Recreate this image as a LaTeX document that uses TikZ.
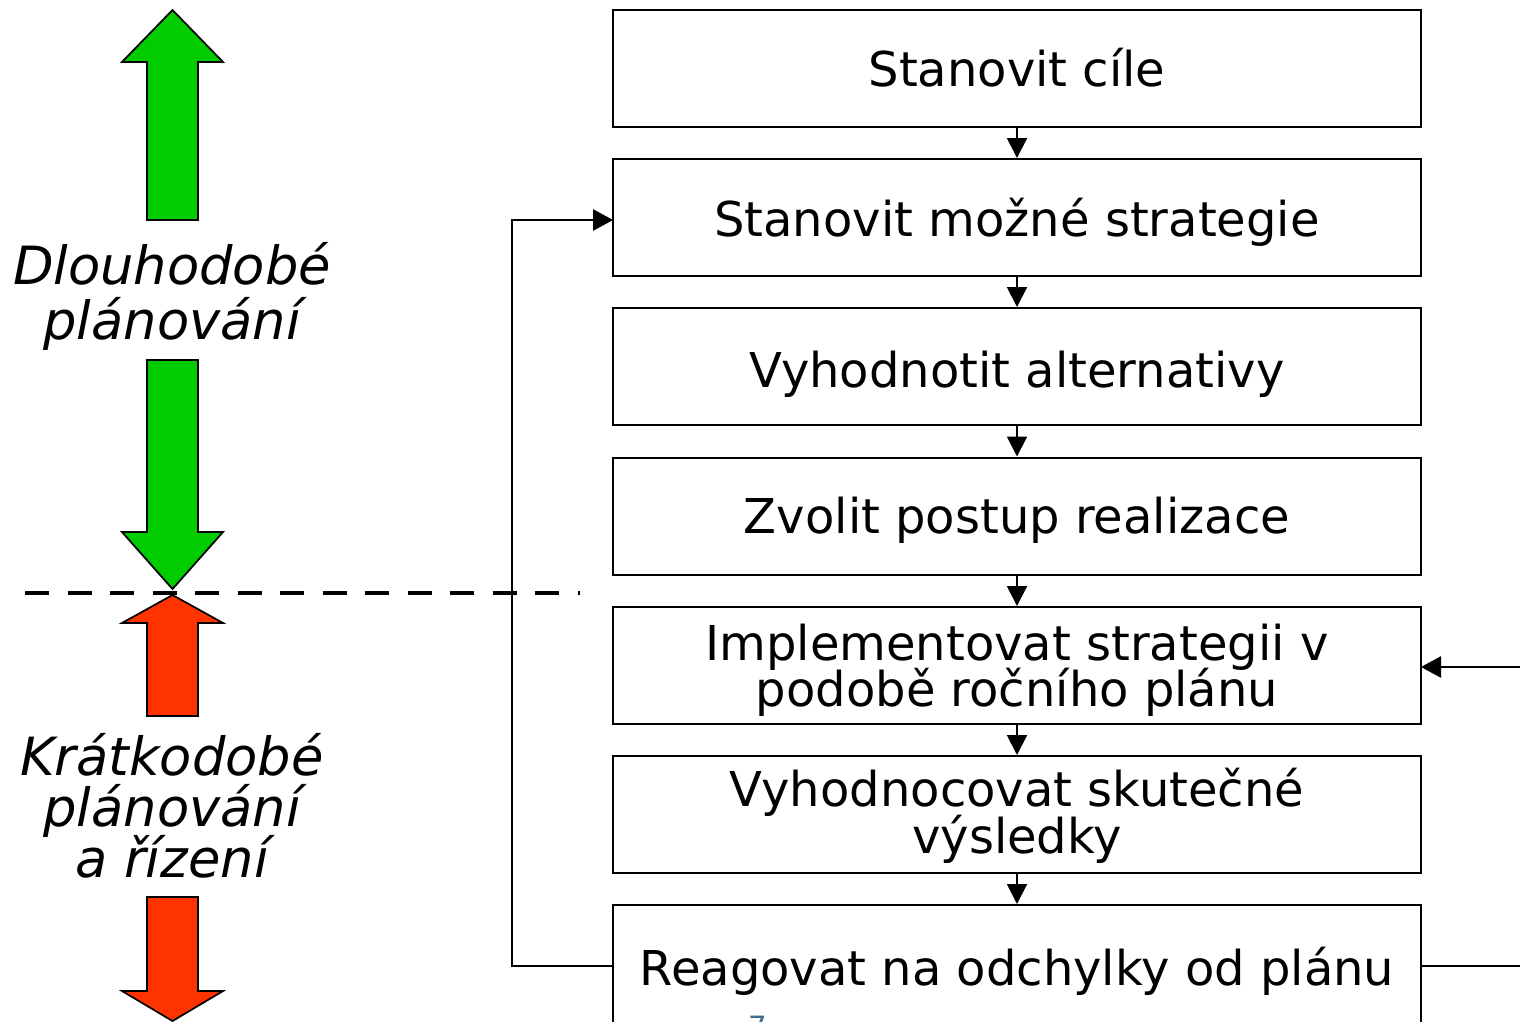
\documentclass[tikz,border=0pt]{standalone}
\usepackage{fontspec}
\setmainfont{DejaVu Sans}
\usetikzlibrary{arrows.meta,calc}
\definecolor{longgreen}{RGB}{0,204,0}
\definecolor{shortred}{RGB}{255,51,0}
\definecolor{pagenum}{RGB}{62,110,140}
\tikzset{
  stepbox/.style={draw=black, line width=1.5pt, minimum width=606pt, minimum height=87.75pt, inner sep=0pt},
  boxtext/.style={font=\fontsize{36pt}{34.5pt}\selectfont, align=center, inner sep=0pt},
  sidetext/.style={font=\fontsize{39.5pt}{41pt}\itshape\selectfont, align=center, inner sep=0pt},
  flow/.style={line width=1.5pt, -{Triangle[length=15pt,width=15pt]}},
  loop/.style={line width=1.2pt, -{Triangle[length=15pt,width=16pt]}},
  blockarrow/.style={draw=black, line width=1.3pt, line join=miter},
}
\begin{document}
\begin{tikzpicture}[x=0.75pt, y=-0.75pt]
\useasboundingbox (0,0) rectangle (1520,1021);
\clip (0,0) rectangle (1520,1021);

% process boxes
\node[stepbox] (b1) at (1017,68) {};
\node[stepbox] (b2) at (1017,217.5) {};
\node[stepbox] (b3) at (1017,366.5) {};
\node[stepbox] (b4) at (1017,516) {};
\node[stepbox] (b5) at (1017,665.5) {};
\node[stepbox] (b6) at (1017,814.5) {};
\node[stepbox, minimum height=90pt] (b7) at (1017,965) {};

% box labels
\node[boxtext, anchor=base] (t1) at (1017,86) {Stanovit cíle};
\node[boxtext, anchor=base] (t2) at (1017,236) {Stanovit možné strategie};
\node[boxtext, anchor=base] (t3) at (1017,387) {Vyhodnotit alternativy};
\node[boxtext, anchor=base] (t4) at (1017,533) {Zvolit postup realizace};
\node[boxtext, anchor=base] (t5a) at (1017,660) {Implementovat strategii v};
\node[boxtext, anchor=base] (t5b) at (1017,706) {podobě ročního plánu};
\node[boxtext, anchor=base] (t6a) at (1017,806) {Vyhodnocovat skutečné};
\node[boxtext, anchor=base] (t6b) at (1017,853) {výsledky};
\node[boxtext, anchor=base] (t7) at (1017,985) {Reagovat na odchylky od plánu};

% flow between boxes
\foreach \a/\b in {b1/b2,b2/b3,b3/b4,b4/b5,b5/b6,b6/b7}
  \draw[flow] (\a.south) -- (\b.north);

% feedback loops
\coordinate (lcorner) at (512,966);
\coordinate (rcorner) at (1545,966);
\coordinate (lentry) at (613,220);
\coordinate (rentry) at (1421,667);
\draw[loop] (b7.west |- lcorner) -- (lcorner) |- (lentry);
\draw[loop] (b7.east |- rcorner) -- (rcorner) |- (rentry);

% horizon divider
\coordinate (dl) at (25,593);
\coordinate (dr) at (580,593);
\draw[line width=3pt, dash pattern=on 18pt off 13.9pt] (dl) -- (dr);

% long-term planning arrows
\draw[blockarrow, fill=longgreen] (147,220) -- (147,62) -- (122,62) -- (172.5,10) -- (223,62) -- (198,62) -- (198,220) -- cycle;
\draw[blockarrow, fill=longgreen] (147,360) -- (147,532) -- (122,532) -- (172.5,589) -- (223,532) -- (198,532) -- (198,360) -- cycle;
\node[sidetext, anchor=base] (lt1) at (172,284) {Dlouhodobé};
\node[sidetext, anchor=base] (lt2) at (172,339) {plánování};

% short-term planning arrows
\draw[blockarrow, fill=shortred] (147,716) -- (147,623) -- (122,623) -- (172.5,595) -- (223,623) -- (198,623) -- (198,716) -- cycle;
\draw[blockarrow, fill=shortred] (147,897) -- (147,991) -- (122,991) -- (172.5,1021) -- (223,991) -- (198,991) -- (198,897) -- cycle;
\node[sidetext, anchor=base] (st1) at (172,775) {Krátkodobé};
\node[sidetext, anchor=base] (st2) at (172,826) {plánování};
\node[sidetext, anchor=base] (st3) at (172,877) {a řízení};

% page number at the lower edge
\node[anchor=north, inner sep=0pt, text=pagenum, font=\fontsize{22pt}{22pt}\selectfont] (pg) at (758,1016) {7};
\end{tikzpicture}
\end{document}
